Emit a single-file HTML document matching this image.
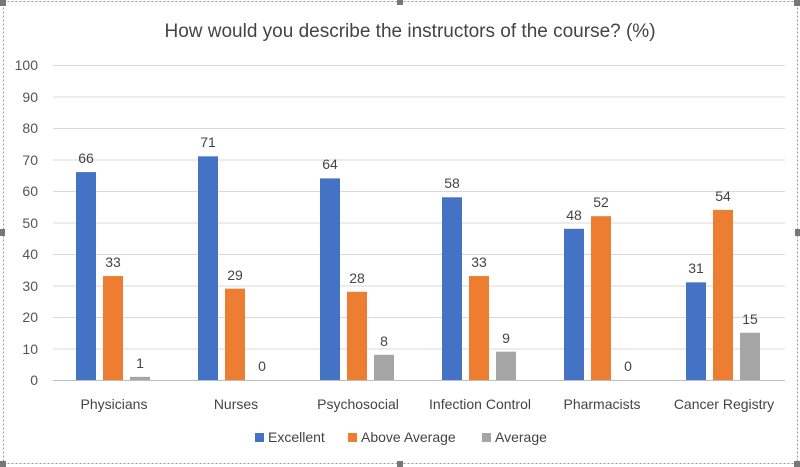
<!DOCTYPE html>
<html><head><style>
body{margin:0;background:#fff;}
svg{display:block;font-family:"Liberation Sans",sans-serif;}
</style></head><body>
<svg width="800" height="467" xmlns="http://www.w3.org/2000/svg">
<rect x="0" y="0" width="800" height="467" fill="#fff"/>
<rect x="3.5" y="1.5" width="794" height="462" fill="none" stroke="#999" stroke-dasharray="2,2"/>
<rect x="0" y="0" width="6" height="6" fill="#777"/>
<rect x="397" y="0" width="6" height="5" fill="#777"/>
<rect x="794" y="0" width="6" height="6" fill="#777"/>
<rect x="0" y="461" width="6" height="6" fill="#777"/>
<rect x="397" y="461" width="6" height="6" fill="#777"/>
<rect x="794" y="461" width="6" height="6" fill="#777"/>
<rect x="0" y="229" width="5" height="7" fill="#777"/>
<rect x="795" y="229" width="5" height="7" fill="#777"/>
<text x="410" y="37" font-size="19" fill="#444" text-anchor="middle">How would you describe the instructors of the course? (%)</text>
<g stroke="#d9d9d9" stroke-width="1">
<line x1="53" x2="785" y1="65.5" y2="65.5"/><line x1="53" x2="785" y1="97" y2="97"/>
<line x1="53" x2="785" y1="128.5" y2="128.5"/><line x1="53" x2="785" y1="160" y2="160"/>
<line x1="53" x2="785" y1="191.5" y2="191.5"/><line x1="53" x2="785" y1="223" y2="223"/>
<line x1="53" x2="785" y1="254.5" y2="254.5"/><line x1="53" x2="785" y1="286" y2="286"/>
<line x1="53" x2="785" y1="317.5" y2="317.5"/><line x1="53" x2="785" y1="349" y2="349"/>
</g>
<g font-size="14" fill="#555" text-anchor="end">
<text x="38" y="70">100</text><text x="38" y="102">90</text><text x="38" y="133">80</text>
<text x="38" y="165">70</text><text x="38" y="196">60</text><text x="38" y="228">50</text>
<text x="38" y="259">40</text><text x="38" y="291">30</text><text x="38" y="322">20</text>
<text x="38" y="354">10</text><text x="38" y="385">0</text>
</g>
<g fill="#4472c4">
<rect x="76" y="172.1" width="20" height="207.9"/>
<rect x="198" y="156.35" width="20" height="223.65"/>
<rect x="320" y="178.4" width="20" height="201.6"/>
<rect x="442" y="197.3" width="20" height="182.7"/>
<rect x="564" y="228.8" width="20" height="151.2"/>
<rect x="686" y="282.35" width="20" height="97.65"/>
</g>
<g fill="#ed7d31">
<rect x="103" y="276.05" width="20" height="103.95"/>
<rect x="225" y="288.65" width="20" height="91.35"/>
<rect x="347" y="291.8" width="20" height="88.2"/>
<rect x="469" y="276.05" width="20" height="103.95"/>
<rect x="591" y="216.2" width="20" height="163.8"/>
<rect x="713" y="209.9" width="20" height="170.1"/>
</g>
<g fill="#a5a5a5">
<rect x="130" y="376.85" width="20" height="3.15"/>
<rect x="374" y="354.8" width="20" height="25.2"/>
<rect x="496" y="351.65" width="20" height="28.35"/>
<rect x="740" y="332.75" width="20" height="47.25"/>
</g>
<line x1="53" x2="785" y1="380.5" y2="380.5" stroke="#bfbfbf"/>
<g font-size="14" fill="#444" text-anchor="middle">
<text x="86" y="163">66</text><text x="113" y="267">33</text><text x="140" y="368">1</text>
<text x="208" y="147">71</text><text x="235" y="280">29</text><text x="262" y="371">0</text>
<text x="330" y="169">64</text><text x="357" y="283">28</text><text x="384" y="346">8</text>
<text x="452" y="188">58</text><text x="479" y="267">33</text><text x="506" y="343">9</text>
<text x="574" y="220">48</text><text x="601" y="207">52</text><text x="628" y="371">0</text>
<text x="696" y="273">31</text><text x="723" y="201">54</text><text x="750" y="324">15</text>
</g>
<g font-size="14" fill="#444" text-anchor="middle">
<text x="114" y="409">Physicians</text><text x="236" y="409">Nurses</text>
<text x="358" y="409">Psychosocial</text><text x="480" y="409">Infection Control</text>
<text x="602" y="409">Pharmacists</text><text x="724" y="409">Cancer Registry</text>
</g>
<g font-size="14" fill="#444">
<rect x="255" y="433" width="9" height="9" fill="#4472c4"/><text x="268" y="442">Excellent</text>
<rect x="348" y="433" width="9" height="9" fill="#ed7d31"/><text x="361" y="442">Above Average</text>
<rect x="482" y="433" width="9" height="9" fill="#a5a5a5"/><text x="495" y="442">Average</text>
</g>
</svg>
</body></html>
